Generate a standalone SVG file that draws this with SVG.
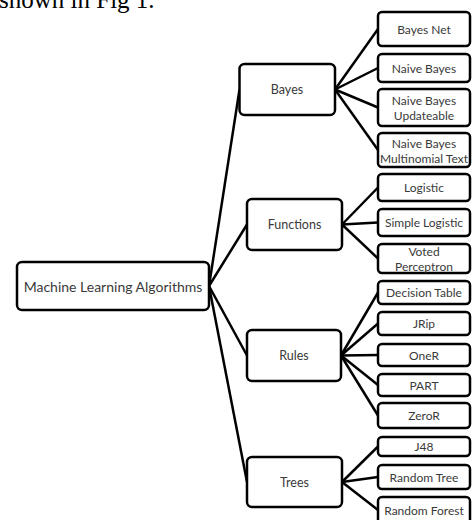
<svg xmlns="http://www.w3.org/2000/svg" width="472" height="520" viewBox="0 0 472 520">
  <style>
    .box { fill: #ffffff; stroke: #000000; stroke-width: 2.5; }
    .edge { fill: none; stroke: #000000; stroke-width: 2.5; }
    .lbl { font-family: Lato, "Liberation Sans", sans-serif; fill: #3a3a3a; text-anchor: middle; dominant-baseline: central; }
    .root { font-size: 14px; }
    .mid { font-size: 12.5px; }
    .leaf { font-size: 12px; }
    .body { font-family: "Liberation Serif", serif; font-size: 25px; fill: #000000; }
  </style>
  <rect width="472" height="520" fill="#ffffff"/>

  <text class="body" x="-1" y="7.5">shown in Fig 1.</text>

  <g id="connectors">
    <!-- root to categories -->
    <line class="edge" x1="209" y1="286" x2="239.5" y2="89.5"/>
    <line class="edge" x1="209" y1="286" x2="247" y2="224.5"/>
    <line class="edge" x1="209" y1="286" x2="247" y2="355.5"/>
    <line class="edge" x1="209" y1="286" x2="247" y2="482"/>
    <!-- Bayes -->
    <line class="edge" x1="335" y1="89.5" x2="378" y2="29"/>
    <line class="edge" x1="335" y1="89.5" x2="378" y2="68"/>
    <line class="edge" x1="335" y1="89.5" x2="378" y2="107.5"/>
    <line class="edge" x1="335" y1="89.5" x2="378" y2="150"/>
    <!-- Functions -->
    <line class="edge" x1="342" y1="224.5" x2="378" y2="187.5"/>
    <line class="edge" x1="342" y1="224.5" x2="378" y2="222.5"/>
    <line class="edge" x1="342" y1="224.5" x2="378" y2="258.5"/>
    <!-- Rules -->
    <line class="edge" x1="341" y1="355.5" x2="378" y2="292.5"/>
    <line class="edge" x1="341" y1="355.5" x2="378" y2="323.5"/>
    <line class="edge" x1="341" y1="355.5" x2="378" y2="355"/>
    <line class="edge" x1="341" y1="355.5" x2="378" y2="385"/>
    <line class="edge" x1="341" y1="355.5" x2="378" y2="415.5"/>
    <!-- Trees -->
    <line class="edge" x1="342" y1="482" x2="378" y2="446.5"/>
    <line class="edge" x1="342" y1="482" x2="378" y2="477"/>
    <line class="edge" x1="342" y1="482" x2="378" y2="510"/>
  </g>

  <g id="root">
    <rect class="box" x="17" y="262" width="192" height="48" rx="5"/>
    <text class="lbl root" x="113" y="286">Machine Learning Algorithms</text>
  </g>

  <g id="bayes">
    <rect class="box" x="239.5" y="64" width="95.5" height="51" rx="5"/>
    <text class="lbl mid" x="287" y="89.5">Bayes</text>
  </g>
  <g id="functions">
    <rect class="box" x="247" y="199" width="95" height="51" rx="5"/>
    <text class="lbl mid" x="294.5" y="224.5">Functions</text>
  </g>
  <g id="rules">
    <rect class="box" x="247" y="330" width="94" height="51" rx="5"/>
    <text class="lbl mid" x="294" y="355.5">Rules</text>
  </g>
  <g id="trees">
    <rect class="box" x="247" y="457" width="95" height="50" rx="5"/>
    <text class="lbl mid" x="294.5" y="482">Trees</text>
  </g>

  <g id="bayes-net">
    <rect class="box" x="378" y="12" width="92" height="34" rx="4"/>
    <text class="lbl leaf" x="424" y="29">Bayes Net</text>
  </g>
  <g id="naive-bayes">
    <rect class="box" x="378" y="54" width="92" height="28" rx="4"/>
    <text class="lbl leaf" x="424" y="68">Naive Bayes</text>
  </g>
  <g id="naive-bayes-updateable">
    <rect class="box" x="378" y="89" width="92" height="37" rx="4"/>
    <text class="lbl leaf" x="424" y="100">Naive Bayes</text>
    <text class="lbl leaf" x="424" y="115">Updateable</text>
  </g>
  <g id="naive-bayes-multinomial-text">
    <rect class="box" x="378" y="133" width="92" height="34" rx="4"/>
    <text class="lbl leaf" x="424" y="143">Naive Bayes</text>
    <text class="lbl leaf" x="424" y="158">Multinomial Text</text>
  </g>
  <g id="logistic">
    <rect class="box" x="378" y="174" width="92" height="27" rx="4"/>
    <text class="lbl leaf" x="424" y="187.5">Logistic</text>
  </g>
  <g id="simple-logistic">
    <rect class="box" x="378" y="209" width="92" height="27" rx="4"/>
    <text class="lbl leaf" x="424" y="222.5">Simple Logistic</text>
  </g>
  <g id="voted-perceptron">
    <rect class="box" x="378" y="244" width="92" height="29" rx="4"/>
    <text class="lbl leaf" x="424" y="251.5">Voted</text>
    <text class="lbl leaf" x="424" y="266">Perceptron</text>
  </g>
  <g id="decision-table">
    <rect class="box" x="378" y="281" width="92" height="23" rx="4"/>
    <text class="lbl leaf" x="424" y="292.5">Decision Table</text>
  </g>
  <g id="jrip">
    <rect class="box" x="378" y="312" width="92" height="23" rx="4"/>
    <text class="lbl leaf" x="424" y="323.5">JRip</text>
  </g>
  <g id="oner">
    <rect class="box" x="378" y="344" width="92" height="22" rx="4"/>
    <text class="lbl leaf" x="424" y="355">OneR</text>
  </g>
  <g id="part">
    <rect class="box" x="378" y="374" width="92" height="22" rx="4"/>
    <text class="lbl leaf" x="424" y="385">PART</text>
  </g>
  <g id="zeror">
    <rect class="box" x="378" y="403" width="92" height="25" rx="4"/>
    <text class="lbl leaf" x="424" y="415.5">ZeroR</text>
  </g>
  <g id="j48">
    <rect class="box" x="378" y="437" width="92" height="19" rx="4"/>
    <text class="lbl leaf" x="424" y="446.5">J48</text>
  </g>
  <g id="random-tree">
    <rect class="box" x="378" y="465" width="92" height="24" rx="4"/>
    <text class="lbl leaf" x="424" y="477">Random Tree</text>
  </g>
  <g id="random-forest">
    <rect class="box" x="378" y="497" width="92" height="28" rx="4"/>
    <text class="lbl leaf" x="424" y="510">Random Forest</text>
  </g>
</svg>
